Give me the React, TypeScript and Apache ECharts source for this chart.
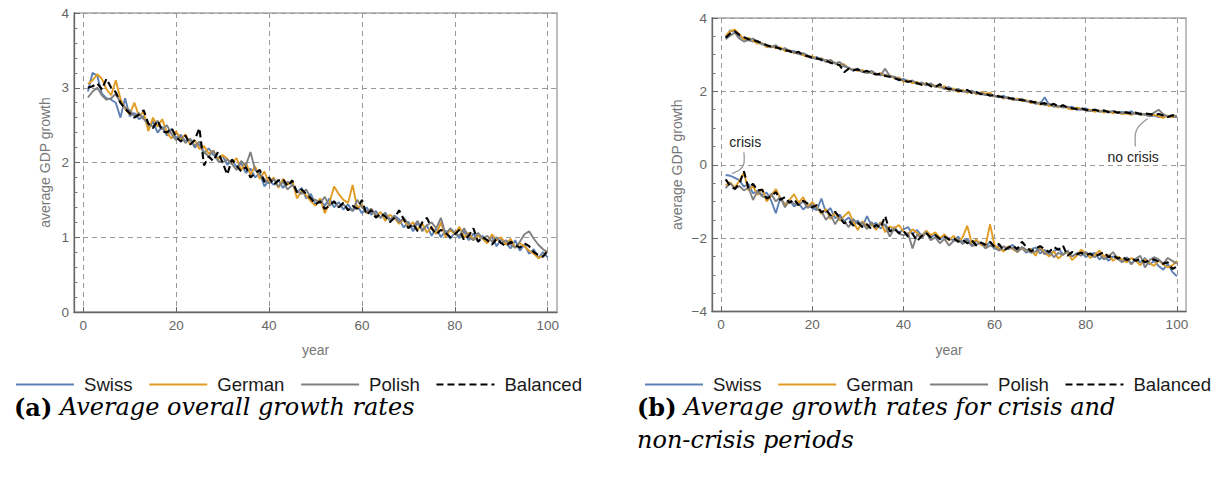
import { useEffect, useRef } from "react";
import * as echarts from "echarts";

// Simulation years 1..100
const years: number[] = Array.from({ length: 100 }, (_, i) => i + 1);

const seriesNames = ["Swiss", "German", "Polish", "Balanced"];
const xTicks = [0, 20, 40, 60, 80, 100];

// (a) average overall growth
const overallSwiss = [
  2.95, 3.2, 3.16, 2.92, 2.86, 2.84, 2.8, 2.6, 2.86, 2.62,
  2.66, 2.58, 2.62, 2.46, 2.55, 2.4, 2.48, 2.36, 2.45, 2.33,
  2.37, 2.28, 2.31, 2.2, 2.24, 2.12, 2.19, 2.1, 2.06, 2.09,
  1.97, 2.03, 1.94, 1.99, 1.86, 1.92, 1.8, 1.86, 1.68, 1.76,
  1.7, 1.77, 1.66, 1.74, 1.72, 1.6, 1.66, 1.52, 1.58, 1.44,
  1.5, 1.42, 1.52, 1.4, 1.47, 1.37, 1.44, 1.35, 1.42, 1.32,
  1.4, 1.3, 1.35, 1.26, 1.33, 1.22, 1.29, 1.24, 1.13, 1.21,
  1.08, 1.19, 1.1, 1.16, 1.02, 1.12, 1.0, 1.09, 0.98, 1.06,
  0.99, 1.08, 0.96, 1.05, 0.94, 1.02, 0.93, 1.01, 0.88, 0.97,
  0.92, 0.85, 0.96, 0.82, 0.9, 0.78, 0.84, 0.72, 0.8, 0.73,
];
const overallGerman = [
  3.05, 3.1, 3.18, 3.12, 2.98, 2.9, 3.1, 2.85, 2.72, 2.64,
  2.8, 2.62, 2.68, 2.42, 2.6, 2.48, 2.58, 2.4, 2.32, 2.42,
  2.3, 2.38, 2.24, 2.3, 2.18, 2.22, 2.12, 2.16, 2.04, 2.1,
  2.05, 1.98, 2.06, 1.9, 2.0, 1.84, 1.95, 1.78, 1.88, 1.72,
  1.8, 1.66, 1.78, 1.7, 1.76, 1.52, 1.62, 1.56, 1.48, 1.42,
  1.52, 1.32, 1.46, 1.68, 1.58, 1.5, 1.46, 1.7, 1.38, 1.44,
  1.32, 1.38, 1.28, 1.34, 1.22, 1.3, 1.26, 1.18, 1.24, 1.14,
  1.2, 1.1, 1.18, 1.06, 1.14, 1.04, 1.2, 1.0, 1.1, 1.04,
  1.14, 1.0, 1.06, 0.96, 1.02, 0.98, 0.92, 1.04, 0.96, 1.0,
  0.9, 0.98, 0.86, 0.92, 0.88, 0.82, 0.78, 0.72, 0.75, 0.82,
];
const overallPolish = [
  2.87, 2.95, 3.0, 2.9, 2.84, 2.86, 2.92, 2.8, 2.74, 2.7,
  2.62, 2.66, 2.58, 2.52, 2.48, 2.56, 2.44, 2.5, 2.38, 2.3,
  2.36, 2.26, 2.32, 2.22, 2.28, 2.14, 2.08, 2.16, 2.02, 2.0,
  2.04, 1.98, 1.9, 2.02, 1.96, 2.14, 1.9, 1.84, 1.78, 1.72,
  1.78, 1.68, 1.74, 1.64, 1.7, 1.62, 1.58, 1.64, 1.52, 1.5,
  1.46, 1.54, 1.42, 1.48, 1.4, 1.44, 1.38, 1.36, 1.5, 1.4,
  1.34, 1.38, 1.3, 1.26, 1.32, 1.24, 1.28, 1.2, 1.26, 1.18,
  1.14, 1.22, 1.08, 1.16, 1.2, 1.12, 1.26, 1.04, 1.12, 1.06,
  1.02, 1.12, 1.0, 0.96, 1.06, 0.98, 1.02, 0.94, 1.0, 0.92,
  0.96, 0.9, 0.86, 0.94, 1.04, 1.08, 0.98, 0.9, 0.84, 0.8,
];
const overallBalanced = [
  3.0, 3.02, 3.06, 2.98, 3.12, 3.0, 2.94, 2.8, 2.72, 2.66,
  2.6, 2.64, 2.7, 2.52, 2.46, 2.56, 2.42, 2.4, 2.46, 2.34,
  2.28, 2.36, 2.24, 2.3, 2.46, 1.96, 2.08, 2.02, 2.14, 2.0,
  1.84, 2.04, 1.96, 1.88, 1.94, 1.8, 1.86, 1.9, 1.74, 1.8,
  1.7, 1.76, 1.78, 1.68, 1.76, 1.6, 1.64, 1.58, 1.52, 1.44,
  1.48, 1.38, 1.42, 1.48, 1.4, 1.46, 1.36, 1.42, 1.38, 1.5,
  1.3, 1.36, 1.26, 1.32, 1.28, 1.2, 1.26, 1.36, 1.24, 1.12,
  1.18, 1.08, 1.2, 1.26, 1.12, 1.04, 1.1, 1.06, 1.0, 1.04,
  1.1, 0.96, 1.02, 1.12, 0.94, 1.0, 0.96, 0.9, 0.98, 0.92,
  0.88, 0.94, 0.9, 0.86, 0.92, 0.88, 0.8, 0.76, 0.74, 0.82,
];

// (b) non-crisis periods
const normalSwiss = [
  3.48, 3.66, 3.62, 3.5, 3.44, 3.4, 3.36, 3.38, 3.28, 3.26,
  3.22, 3.24, 3.16, 3.14, 3.08, 3.1, 3.02, 3.0, 2.96, 2.9,
  2.94, 2.84, 2.86, 2.82, 2.76, 2.72, 2.68, 2.64, 2.56, 2.62,
  2.52, 2.54, 2.5, 2.48, 2.44, 2.46, 2.4, 2.38, 2.3, 2.34,
  2.28, 2.26, 2.22, 2.24, 2.18, 2.2, 2.14, 2.16, 2.08, 2.12,
  2.04, 2.06, 2.0, 2.02, 1.96, 1.98, 1.94, 1.9, 1.92, 1.86,
  1.84, 1.88, 1.8, 1.82, 1.76, 1.78, 1.74, 1.7, 1.68, 1.66,
  1.84, 1.62, 1.64, 1.58, 1.6, 1.56, 1.58, 1.52, 1.5, 1.54,
  1.48, 1.5, 1.46, 1.48, 1.44, 1.46, 1.42, 1.44, 1.4, 1.46,
  1.38, 1.4, 1.36, 1.32, 1.34, 1.3, 1.34, 1.32, 1.3, 1.3,
];
const normalGerman = [
  3.52, 3.64, 3.68, 3.56, 3.42, 3.46, 3.38, 3.3, 3.32, 3.2,
  3.24, 3.18, 3.2, 3.1, 3.12, 3.04, 3.06, 2.98, 2.94, 2.96,
  2.88, 2.9, 2.82, 2.84, 2.78, 2.7, 2.74, 2.62, 2.6, 2.56,
  2.58, 2.5, 2.54, 2.46, 2.5, 2.42, 2.44, 2.36, 2.38, 2.26,
  2.3, 2.22, 2.26, 2.18, 2.22, 2.14, 2.16, 2.1, 2.14, 2.04,
  2.08, 1.98, 2.04, 1.96, 2.0, 1.92, 1.98, 1.94, 1.96, 1.86,
  1.88, 1.8, 1.84, 1.76, 1.8, 1.74, 1.76, 1.68, 1.72, 1.64,
  1.66, 1.6, 1.64, 1.56, 1.62, 1.54, 1.5, 1.56, 1.52, 1.48,
  1.5, 1.44, 1.48, 1.42, 1.46, 1.4, 1.44, 1.38, 1.4, 1.36,
  1.42, 1.36, 1.38, 1.34, 1.36, 1.32, 1.28, 1.34, 1.3, 1.34,
];
const normalPolish = [
  3.42, 3.52, 3.6, 3.44, 3.36, 3.4, 3.44, 3.34, 3.3, 3.24,
  3.2, 3.26, 3.14, 3.18, 3.1, 3.06, 3.02, 3.04, 2.98, 2.92,
  2.88, 2.9, 2.8, 2.86, 2.76, 2.8, 2.7, 2.64, 2.58, 2.6,
  2.54, 2.5, 2.56, 2.48, 2.44, 2.62, 2.42, 2.4, 2.34, 2.3,
  2.26, 2.3, 2.2, 2.24, 2.16, 2.22, 2.12, 2.14, 2.06, 2.1,
  2.02, 2.06, 2.0, 1.98, 2.02, 1.94, 1.96, 1.9, 1.92, 1.88,
  1.86, 1.82, 1.84, 1.78, 1.76, 1.8, 1.72, 1.74, 1.66, 1.7,
  1.62, 1.66, 1.58, 1.6, 1.56, 1.58, 1.54, 1.5, 1.52, 1.48,
  1.46, 1.5, 1.44, 1.46, 1.42, 1.46, 1.42, 1.4, 1.44, 1.38,
  1.4, 1.36, 1.38, 1.34, 1.42, 1.5, 1.38, 1.32, 1.36, 1.32,
];
const normalBalanced = [
  3.46, 3.58, 3.64, 3.54, 3.48, 3.42, 3.4, 3.36, 3.32, 3.26,
  3.22, 3.2, 3.16, 3.12, 3.1, 3.04, 3.08, 2.98, 2.96, 2.92,
  2.9, 2.86, 2.84, 2.78, 2.74, 2.72, 2.52, 2.62, 2.58, 2.6,
  2.52, 2.56, 2.5, 2.46, 2.48, 2.42, 2.4, 2.36, 2.32, 2.3,
  2.26, 2.28, 2.22, 2.18, 2.22, 2.14, 2.12, 2.2, 2.1, 2.06,
  2.06, 2.02, 2.0, 2.04, 1.96, 1.98, 1.92, 1.94, 1.88, 1.9,
  1.86, 1.84, 1.82, 1.8, 1.78, 1.76, 1.74, 1.72, 1.7, 1.66,
  1.68, 1.62, 1.66, 1.58, 1.62, 1.56, 1.54, 1.52, 1.54, 1.5,
  1.48, 1.5, 1.46, 1.48, 1.44, 1.46, 1.42, 1.44, 1.42, 1.4,
  1.42, 1.38, 1.4, 1.38, 1.36, 1.38, 1.34, 1.3, 1.34, 1.36,
];

// (b) crisis periods
const crisisSwiss = [
  -0.28, -0.3, -0.36, -0.42, -0.6, -0.52, -0.78, -0.7, -0.82, -0.76,
  -0.98, -1.32, -0.9, -1.08, -0.96, -1.14, -1.04, -1.22, -1.1, -1.18,
  -1.24, -0.92, -1.3, -1.18, -1.46, -1.36, -1.54, -1.44, -1.62, -1.52,
  -1.7, -1.4, -1.66, -1.58, -1.74, -1.62, -1.8, -1.7, -1.86, -1.76,
  -1.7, -1.88, -1.78, -1.94, -1.8, -1.98, -1.9, -2.04, -1.94, -2.0,
  -2.06, -1.96, -2.12, -2.02, -2.18, -2.08, -2.14, -2.24, -2.1, -2.3,
  -2.2, -2.34, -2.26, -2.18, -2.36, -2.28, -2.4, -2.3, -2.26, -2.42,
  -2.32, -2.46, -2.36, -2.28, -2.44, -2.38, -2.5, -2.42, -2.36, -2.52,
  -2.44, -2.4, -2.58, -2.48, -2.62, -2.5, -2.56, -2.64, -2.52, -2.7,
  -2.58, -2.66, -2.54, -2.72, -2.62, -2.76, -2.86, -2.7, -2.92, -3.04,
];
const crisisGerman = [
  -0.56, -0.48, -0.62, -0.44, -0.22, -0.7, -0.58, -0.82, -0.66, -1.0,
  -0.84, -0.66, -0.92, -1.1, -0.96, -0.8, -1.04, -0.88, -1.14, -1.02,
  -1.16, -1.34, -1.2, -1.48, -1.3, -1.52, -1.4, -1.28, -1.56, -1.78,
  -1.54, -1.7, -1.6, -1.78, -1.56, -1.84, -1.68, -1.74, -1.64, -1.82,
  -1.9, -1.76, -1.86, -1.96, -1.8, -1.92, -1.84, -2.0, -1.9, -2.06,
  -1.94, -2.1, -1.98, -1.66, -2.14, -2.04, -2.18, -2.24, -1.62, -2.2,
  -2.28, -2.36, -2.22, -2.3, -2.38, -2.26, -2.34, -2.3, -2.48, -2.22,
  -2.4, -2.5, -2.36, -2.56, -2.44, -2.38, -2.6, -2.48, -2.32, -2.4,
  -2.54, -2.46, -2.34, -2.5, -2.46, -2.62, -2.5, -2.58, -2.66, -2.54,
  -2.62, -2.74, -2.58, -2.68, -2.76, -2.6, -2.72, -2.8, -2.74, -2.62,
];
const crisisPolish = [
  -0.64, -0.5, -0.66, -0.58, -0.7, -0.62, -0.96, -0.72, -0.86, -0.9,
  -0.8, -1.0, -0.88, -1.16, -0.98, -1.06, -1.1, -1.0, -1.18, -1.08,
  -1.2, -1.26, -1.5, -1.36, -1.62, -1.42, -1.54, -1.7, -1.48, -1.62,
  -1.58, -1.76, -1.56, -1.72, -1.6, -1.66, -1.96, -1.74, -1.88, -1.92,
  -1.86, -2.28, -1.9, -2.0, -1.84, -2.06, -1.98, -2.14, -2.02, -2.2,
  -2.08, -2.04, -2.16, -2.06, -2.22, -2.18, -2.12, -2.28, -2.2, -2.26,
  -2.34, -2.22, -2.3, -2.26, -2.38, -2.24, -2.32, -2.4, -2.36, -2.3,
  -2.44, -2.36, -2.52, -2.4, -2.46, -2.34, -2.5, -2.42, -2.48, -2.38,
  -2.46, -2.52, -2.44, -2.58, -2.5, -2.38, -2.56, -2.66, -2.54, -2.72,
  -2.56, -2.48, -2.8, -2.6, -2.52, -2.58, -2.7, -2.54, -2.62, -2.7,
];
const crisisBalanced = [
  -0.4, -0.58, -0.66, -0.52, -0.18, -0.64, -0.52, -0.7, -0.68, -0.92,
  -0.86, -0.74, -0.96, -0.88, -1.04, -0.94, -1.1, -0.98, -1.06, -1.16,
  -1.1, -1.3, -1.22, -1.38, -1.28, -1.44, -1.6, -1.52, -1.66, -1.58,
  -1.7, -1.62, -1.76, -1.64, -1.72, -1.4, -1.82, -1.74, -1.86, -1.8,
  -1.96, -1.88, -2.08, -1.94, -1.86, -1.98, -1.92, -2.02, -1.96, -2.04,
  -2.0, -2.1, -2.04, -2.14, -2.06, -2.2, -2.12, -2.18, -2.1, -2.24,
  -2.16, -2.34, -2.26, -2.2, -2.3, -2.1, -2.24, -2.36, -2.28, -2.22,
  -2.3, -2.38, -2.24, -2.32, -2.2, -2.48, -2.38, -2.44, -2.4, -2.46,
  -2.42, -2.5, -2.44, -2.38, -2.52, -2.46, -2.56, -2.5, -2.6, -2.54,
  -2.62, -2.56, -2.66, -2.6, -2.58, -2.64, -2.7, -2.66, -2.84, -2.78,
];

const colors: Record<string, string> = {
  Swiss: "#5E81B5",
  German: "#E19C24",
  Polish: "#808080",
  Balanced: "#000000",
};

const panelA = [overallSwiss, overallGerman, overallPolish, overallBalanced];
const panelBNormal = [normalSwiss, normalGerman, normalPolish, normalBalanced];
const panelBCrisis = [crisisSwiss, crisisGerman, crisisPolish, crisisBalanced];

const SANS = "'Liberation Sans', Arial, sans-serif";
const SERIF = "'DejaVu Serif', serif";

function lineSeries(name: string, values: number[], axis: number) {
  const dashed = name === "Balanced";
  return {
    type: "line",
    name,
    xAxisIndex: axis,
    yAxisIndex: axis,
    data: years.map((y, i) => [y, values[i]]),
    symbol: "none",
    silent: true,
    z: dashed ? 4 : 3,
    lineStyle: {
      color: colors[name],
      width: dashed ? 2.1 : 1.9,
      type: dashed ? [7, 4] : "solid",
    },
    itemStyle: { color: colors[name] },
  };
}

const fmt = (v: number) => (v < 0 ? "\u2212" + Math.abs(v) : String(v));

function xAxis(gridIndex: number) {
  return {
    type: "value",
    gridIndex,
    min: -2,
    max: 102,
    splitNumber: 5,
    z: 1,
    name: "year",
    nameLocation: "middle",
    nameGap: 31,
    nameTextStyle: { color: "#777", fontSize: 14, fontFamily: SANS },
    axisLine: { show: true, onZero: false, lineStyle: { color: "#666", width: 1.3 } },
    axisTick: { show: true, inside: true, length: 5, customValues: xTicks, lineStyle: { color: "#666" } },
    axisLabel: {
      customValues: xTicks,
      color: "#666",
      fontSize: 13.5,
      fontFamily: SANS,
      margin: 6,
    },
    splitLine: { show: true, lineStyle: { color: "#9a9a9a", width: 1, type: [5, 4] } },
  };
}

function yAxis(gridIndex: number, min: number, max: number, interval: number, minor: number, nameGap: number) {
  return {
    type: "value",
    gridIndex,
    min,
    max,
    interval,
    z: 0,
    name: "average GDP growth",
    nameLocation: "middle",
    nameGap,
    nameTextStyle: { color: "#777", fontSize: 14, fontFamily: SANS },
    axisLine: { show: true, onZero: false, lineStyle: { color: "#666", width: 1.3 } },
    axisTick: { show: true, inside: true, length: 6, lineStyle: { color: "#666" } },
    minorTick: { show: true, splitNumber: minor, length: 3.5, lineStyle: { color: "#777" } },
    axisLabel: { color: "#666", fontSize: 13.5, fontFamily: SANS, margin: 5, formatter: fmt },
    splitLine: { show: true, lineStyle: { color: "#9a9a9a", width: 1, type: [5, 4] } },
  };
}

function legend(left: number) {
  return {
    left,
    top: 375,
    width: 620,
    padding: 0,
    orient: "horizontal",
    itemWidth: 58,
    itemHeight: 20,
    itemGap: 15.7,
    selectedMode: false,
    data: seriesNames,
    itemStyle: { opacity: 0 },
    lineStyle: { width: 2 },
    textStyle: {
      color: "#1a1a1a",
      fontSize: 18.6,
      fontFamily: SANS,
      padding: [0, 0, 0, 5],
    },
  };
}

const captionRich = {
  b: { fontFamily: SERIF, fontWeight: "bold", fontSize: 24, lineHeight: 33, fill: "#000" },
  i: { fontFamily: SERIF, fontStyle: "italic", fontSize: 24, lineHeight: 33, fill: "#000" },
};

export default function App() {
  const ref = useRef<HTMLDivElement>(null);

  useEffect(() => {
    if (!ref.current) return;
    const chart = echarts.init(ref.current, undefined, { renderer: "svg" });

    const series: any[] = [];
    seriesNames.forEach((n, k) => series.push(lineSeries(n, panelA[k], 0)));
    seriesNames.forEach((n, k) => series.push(lineSeries(n, panelBNormal[k], 1)));
    seriesNames.forEach((n, k) => series.push(lineSeries(n, panelBCrisis[k], 1)));

    const captions: any[] = [
      {
        type: "text",
        left: 14,
        top: 395,
        style: { text: "{b|(a)}{i| Average overall growth rates}", rich: captionRich },
      },
      {
        type: "text",
        left: 637,
        top: 395,
        style: {
          text: "{b|(b)}{i| Average growth rates for crisis and}\n{i|non-crisis periods}",
          rich: captionRich,
        },
      },
    ];

    chart.setOption({
      animation: false,
      backgroundColor: "#fff",
      grid: [
        { left: 74, top: 13, width: 483, height: 299, show: true, borderColor: "#a8a8a8", borderWidth: 1.5, backgroundColor: "transparent" },
        { left: 712, top: 18, width: 474, height: 293.5, show: true, borderColor: "#a8a8a8", borderWidth: 1.5, backgroundColor: "transparent" },
      ],
      xAxis: [xAxis(0), xAxis(1)],
      yAxis: [yAxis(0, 0, 4, 1, 5, 22), yAxis(1, -4, 4, 2, 4, 28)],
      legend: [legend(15), legend(644)],
      series,
      graphic: captions,
    });

    // Callout labels for the two panel-(b) curve families, placed in data coordinates
    const p = (x: number, y: number) => chart.convertToPixel({ gridIndex: 1 }, [x, y]) as number[];
    const crisisText = p(5.3, 0.61);
    const calmText = p(90.4, 0.2);
    const labelStyle = { fill: "#222", fontSize: 14, fontFamily: SANS, align: "center", verticalAlign: "middle" };
    const callout = { stroke: "#9a9a9a", lineWidth: 1.3, fill: "none" };
    const notes: any[] = [
      { type: "text", x: crisisText[0], y: crisisText[1], style: { ...labelStyle, text: "crisis" } },
      {
        type: "polyline",
        shape: { points: [p(5.0, 0.34), p(5.0, 0.04), p(4.2, -0.12), p(2.4, -0.24)], smooth: 0.3 },
        style: callout,
      },
      { type: "text", x: calmText[0], y: calmText[1], style: { ...labelStyle, text: "no crisis" } },
      {
        type: "polyline",
        shape: { points: [p(90.9, 0.5), p(90.9, 0.84), p(91.6, 1.04), p(93.6, 1.26)], smooth: 0.3 },
        style: callout,
      },
    ];
    chart.setOption({ graphic: [...captions, ...notes] });

    return () => chart.dispose();
  }, []);

  return (
    <div
      ref={ref}
      style={{ position: "absolute", left: 0, top: 0, width: 1219, height: 489, background: "#fff" }}
    />
  );
}
